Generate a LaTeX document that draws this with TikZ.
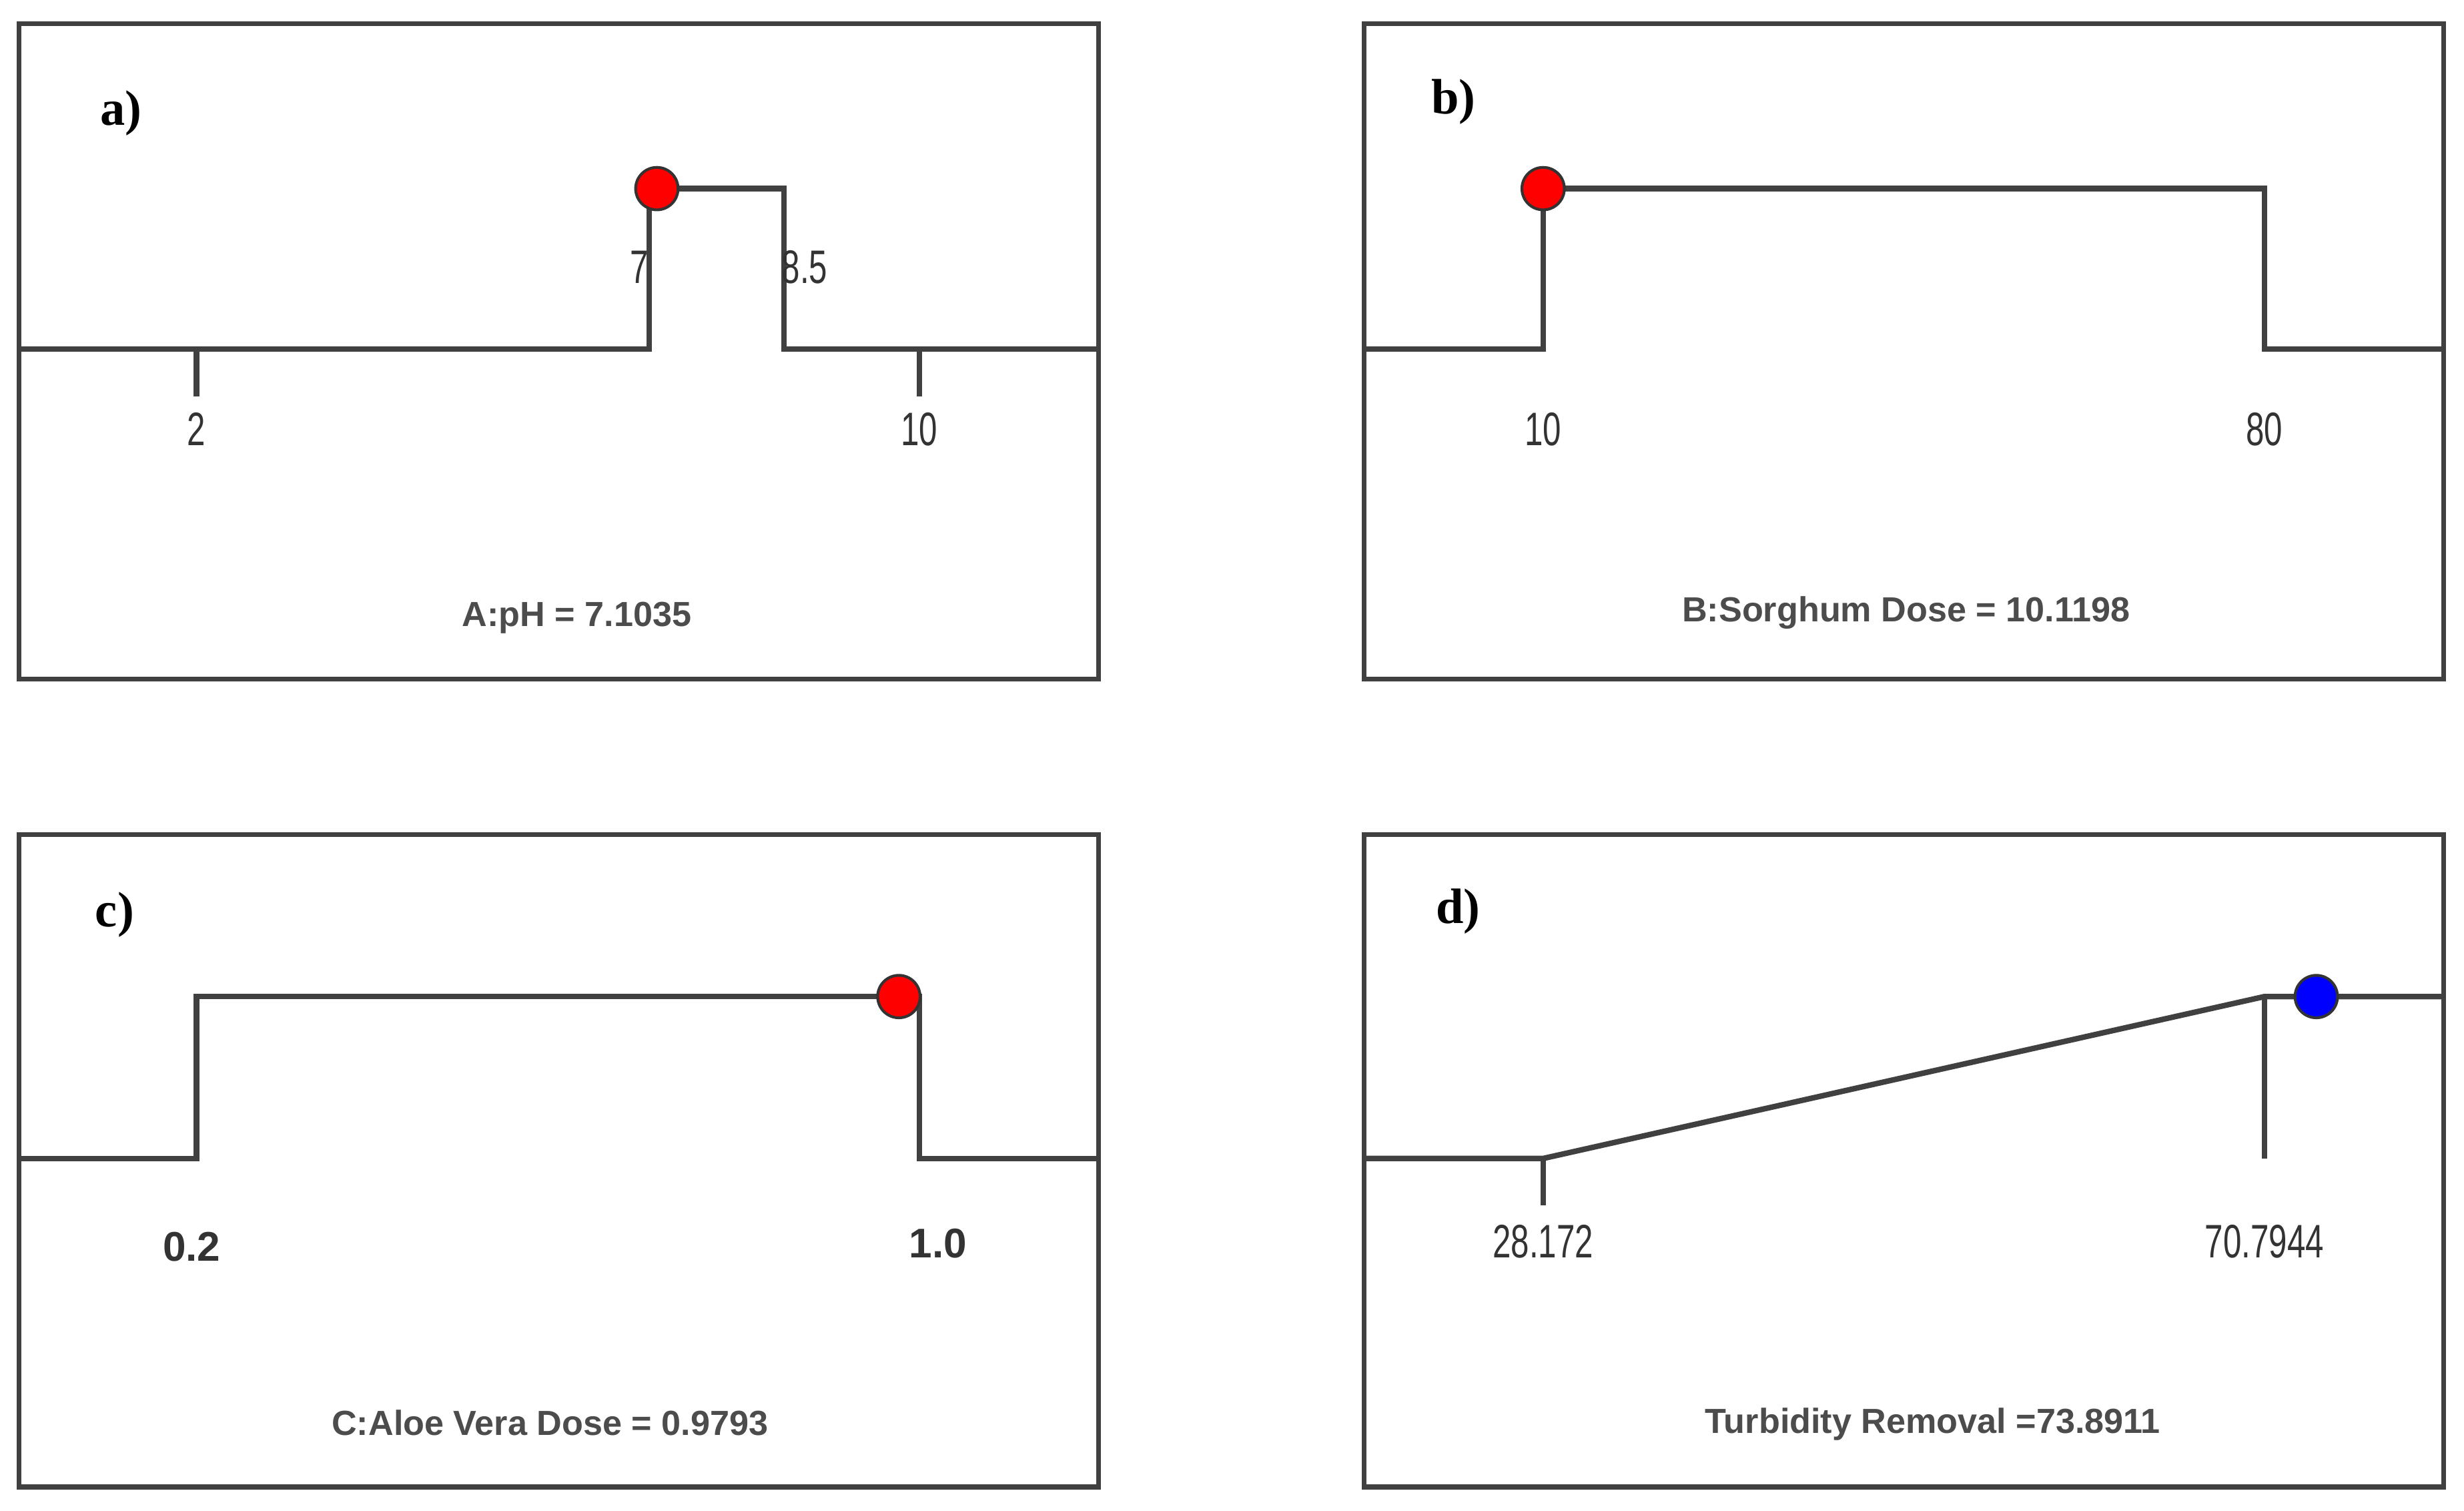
\documentclass[tikz,border=0pt]{standalone}
\usepackage{fontspec}
\setmainfont{Liberation Sans}
\newfontfamily\panelfont{Liberation Serif}
\usetikzlibrary{positioning}
\begin{document}
\begin{tikzpicture}[
        x=0.01cm, y=-0.01cm,
        frame/.style={draw=black!75, line width=0.9pt},
        curve/.style={draw=black!75, line width=1pt},
        dot/.style={circle, draw=black!80, line width=0.5pt, minimum width=0.24cm, minimum height=0.27cm, inner sep=0pt},
        tick/.style={font=\fontsize{8.5}{9}\selectfont, text=black!80, xscale=0.7},
        boldtick/.style={font=\bfseries\fontsize{7.5}{9}\selectfont, text=black!80},
        caption/.style={font=\bfseries\fontsize{6.3}{7}\selectfont, text=black!70},
        panel/.style={font=\panelfont\bfseries\fontsize{9}{10}\selectfont}
    ]
    \useasboundingbox (0,0) rectangle (1568,961);

    % Panel a
    \draw[frame] (12,15) rectangle (699,432);
    \node[panel] (la) at (77,72) {a)};
    \draw[curve] (12,222) -- (413,222) -- (413,120) -- (499,120) -- (499,222) -- (699,222);
    \draw[curve] (125,222) -- (125,252);
    \draw[curve] (585,222) -- (585,252);
    \node[dot, fill=red] (da) at (418,120) {};
    \node[tick] (a7) at (407,170) {7};
    \node[tick] (a85) at (512,170) {8.5};
    \node[tick] (a2) at (125,273) {2};
    \node[tick] (a10) at (585,273) {10};
    \node[caption] (ca) at (367,393) {A:pH = 7.1035};

    % Panel b
    \draw[frame] (868,15) rectangle (1555,432);
    \node[panel] (lb) at (925,65) {b)};
    \draw[curve] (868,222) -- (982,222) -- (982,120) -- (1441,120) -- (1441,222) -- (1555,222);
    \node[dot, fill=red] (db) at (982,120) {};
    \node[tick] (b10) at (982,273) {10};
    \node[tick] (b80) at (1441,273) {80};
    \node[caption] (cb) at (1213,390) {B:Sorghum Dose = 10.1198};

    % Panel c
    \draw[frame] (12,531) rectangle (699,946);
    \node[panel] (lc) at (73,582) {c)};
    \draw[curve] (12,737) -- (125,737) -- (125,634) -- (585,634) -- (585,737) -- (699,737);
    \node[dot, fill=red] (dc) at (572,634) {};
    \node[boldtick] (c02) at (122,793) {0.2};
    \node[boldtick] (c10) at (597,791) {1.0};
    \node[caption] (cc) at (350,905) {C:Aloe Vera Dose = 0.9793};

    % Panel d
    \draw[frame] (868,531) rectangle (1555,946);
    \node[panel] (ld) at (928,580) {d)};
    \draw[curve] (868,737) -- (982,737) -- (1441,634) -- (1555,634);
    \draw[curve] (982,737) -- (982,767);
    \draw[curve] (1441,634) -- (1441,737);
    \node[dot, fill=blue] (dd) at (1474,634) {};
    \node[tick] (d1) at (982,790) {28.172};
    \node[tick] (d2) at (1441,790) {70.7944};
    \node[caption] (cd) at (1230,906) {Turbidity Removal =73.8911};
\end{tikzpicture}
\end{document}
